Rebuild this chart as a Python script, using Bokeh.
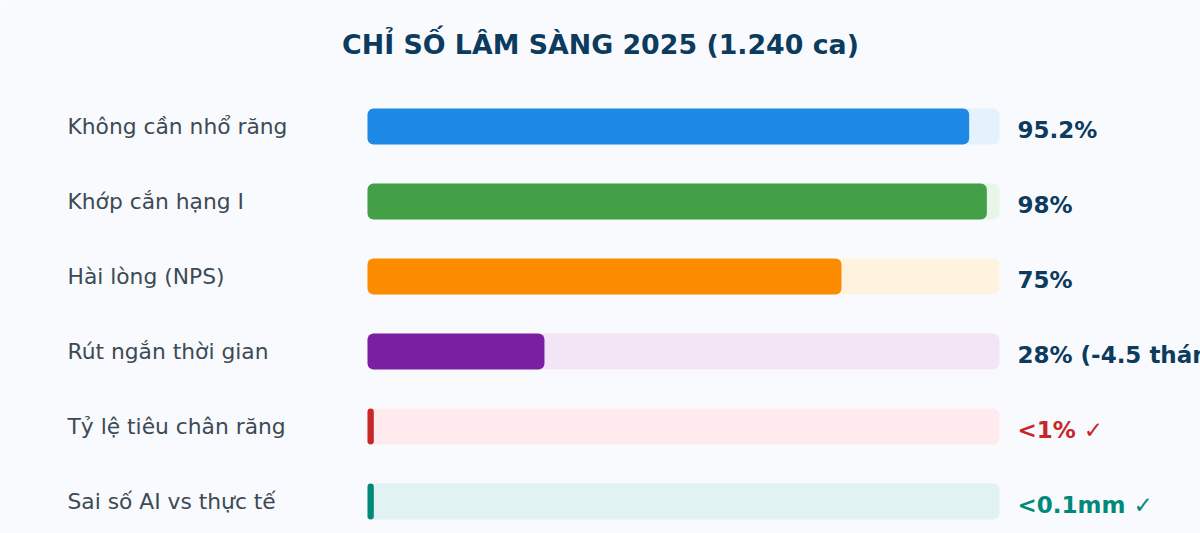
from bokeh.plotting import figure
from bokeh.models import ColumnDataSource, Range1d, Label
from bokeh.core.properties import value
from bokeh.embed import file_html
from bokeh.resources import INLINE

title_text = "CHỈ SỐ LÂM SÀNG 2025 (1.240 ca)"
labels = ["Không cần nhổ răng", "Khớp cắn hạng I", "Hài lòng (NPS)",
          "Rút ngắn thời gian", "Tỷ lệ tiêu chân răng", "Sai số AI vs thực tế"]
values = [95.2, 98, 75, 28, 1, 1]
value_texts = ["95.2%", "98%", "75%", "28% (-4.5 tháng)", "<1% ✓", "<0.1mm ✓"]
bar_colors = ["#1e88e5", "#43a047", "#fb8c00", "#7b1fa2", "#c62828", "#00897b"]
track_colors = ["#e3f2fd", "#e8f5e9", "#fff3e0", "#f3e5f5", "#ffebee", "#e0f2f1"]
value_colors = ["#0d3b5e", "#0d3b5e", "#0d3b5e", "#0d3b5e", "#c62828", "#00897b"]
track_max = 100

W, H = 1200, 533
BG = "#f8fafd"
px_per_unit = 632 / 100.0
x0 = -367 / px_per_unit
row_px = 75.0
y_top = -126 / row_px

p = figure(width=W, height=H, output_backend="svg", toolbar_location=None,
           x_axis_location=None, y_axis_location=None, min_border=0,
           x_range=Range1d(x0, x0 + W / px_per_unit),
           y_range=Range1d(y_top + H / row_px, y_top))
p.grid.visible = False
p.outline_line_color = None
p.background_fill_color = BG
p.border_fill_color = BG

idx = list(range(len(labels)))
src = ColumnDataSource(dict(
    y=idx, label=labels, val=values, vtxt=value_texts, bc=bar_colors, tc=track_colors,
    vc=value_colors, full=[track_max] * len(idx), zero=[0] * len(idx),
    lx=[-47.47] * len(idx), vx=[track_max + 2.85] * len(idx)))

p.hbar(y="y", left="zero", right="full", height=0.48, fill_color="tc",
       line_color=None, border_radius=7, source=src)
p.hbar(y="y", left="zero", right="val", height=0.48, fill_color="bc",
       line_color=None, border_radius=6, source=src)

p.text(x="lx", y="y", text="label", source=src, text_font=value("DejaVu Sans"),
       text_font_size="21.8px", text_color="#3d4a55", text_baseline="middle",
       text_align="left")
p.text(x="vx", y="y", text="vtxt", source=src, text_font=value("DejaVu Sans"),
       text_font_size="23px", text_font_style="bold", text_color="vc",
       text_baseline="middle", text_align="left", y_offset=3)

p.add_layout(Label(x=600, y=H - 44, x_units="screen", y_units="screen",
                   text=title_text, text_font="DejaVu Sans", text_font_size="26.8px",
                   text_font_style="bold", text_color="#0d3b5e",
                   text_align="center", text_baseline="middle"))

html = file_html(p, INLINE)
html = html.replace("<body>", '<body style="background:%s">' % BG, 1)
open("out.html", "w").write(html)
